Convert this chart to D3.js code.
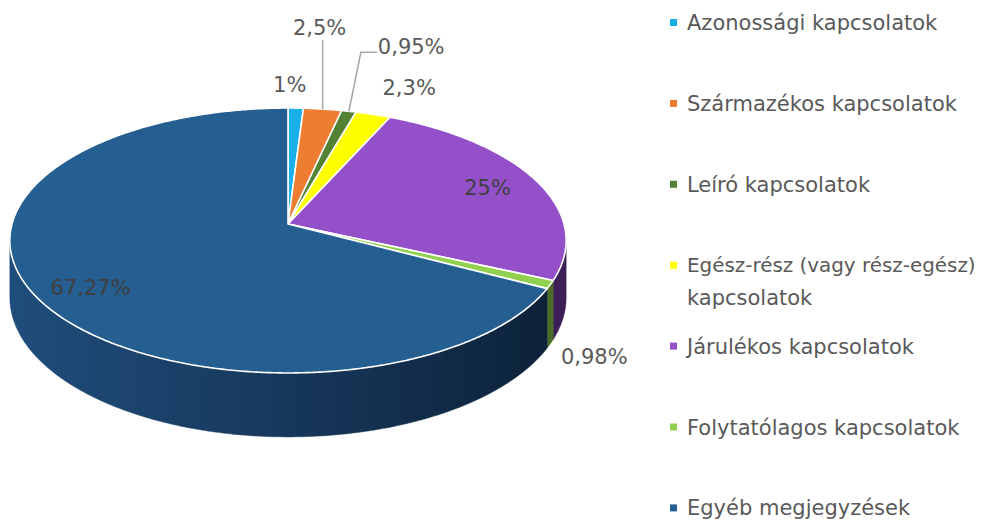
<!DOCTYPE html>
<html>
<head>
<meta charset="utf-8">
<script src="https://cdn.jsdelivr.net/npm/d3@7"></script>
<style>
  body { margin: 0; background: #fff; }
  text { font-family: "DejaVu Sans", sans-serif; }
</style>
</head>
<body>
<script>
// data
const categories = [
  "Azonossági kapcsolatok",
  "Származékos kapcsolatok",
  "Leíró kapcsolatok",
  "Egész-rész (vagy rész-egész) kapcsolatok",
  "Járulékos kapcsolatok",
  "Folytatólagos kapcsolatok",
  "Egyéb megjegyzések"
];
const values = [1, 2.5, 0.95, 2.3, 25, 0.98, 67.27];
const valueLabels = ["1%", "2,5%", "0,95%", "2,3%", "25%", "0,98%", "67,27%"];
const topColors = ["#19b0ea", "#ed7d31", "#548235", "#ffff00", "#9450c9", "#92d050", "#255e91"];
const sideColors = ["#0d5d7c", "#7d4119", "#2c441c", "#87870a", "#3b1f56", "#4b6b29", "url(#sideGrad)"];
const legendLines = [
  ["Azonossági kapcsolatok"],
  ["Származékos kapcsolatok"],
  ["Leíró kapcsolatok"],
  ["Egész-rész (vagy rész-egész)", "kapcsolatok"],
  ["Járulékos kapcsolatok"],
  ["Folytatólagos kapcsolatok"],
  ["Egyéb megjegyzések"]
];

const width = 985, height = 521;

// 3d disc seen in perspective
const cx = 288, cy = 224, rx = 276, ry = 130.4, persp = 0.1245, depth = 56;

function proj(theta, h = 0, r = 1) {
  const x = r * Math.sin(theta), z = r * Math.cos(theta);
  const w = 1 + persp * z;
  return [cx + rx * x / w, cy - ry * z / w + h * depth / w];
}

function arcPoints(a0, a1, h) {
  const n = Math.max(2, Math.ceil((a1 - a0) / (Math.PI / 360)));
  return d3.range(n + 1).map(i => proj(a0 + (a1 - a0) * i / n, h));
}

const svg = d3.select("body").append("svg")
    .attr("width", width)
    .attr("height", height);

const grad = svg.append("defs").append("linearGradient")
    .attr("id", "sideGrad")
    .attr("gradientUnits", "userSpaceOnUse")
    .attr("x1", 10).attr("x2", 560).attr("y1", 0).attr("y2", 0);
grad.append("stop").attr("offset", 0).attr("stop-color", "#1f4d7b");
grad.append("stop").attr("offset", 0.45).attr("stop-color", "#183a5f");
grad.append("stop").attr("offset", 1).attr("stop-color", "#0c2138");

const arcs = d3.pie().sort(null).value(d => d).startAngle(0).endAngle(2 * Math.PI)(values);
const line = d3.line();

// visible front part of the side wall
const frontStart = Math.acos(-persp), frontEnd = 2 * Math.PI - frontStart;

const sides = svg.append("g");
arcs.forEach((a, i) => {
  const s = Math.max(a.startAngle, frontStart), e = Math.min(a.endAngle, frontEnd);
  if (e <= s) return;
  const pts = arcPoints(s, e, 0).concat(arcPoints(s, e, 1).reverse());
  sides.append("path")
      .attr("d", line(pts) + "Z")
      .attr("fill", sideColors[i])
      .attr("stroke", sideColors[i])
      .attr("stroke-width", 0.5);
});

// top face
const topFace = svg.append("g");
arcs.forEach((a, i) => {
  const pts = [proj(0, 0, 0)].concat(arcPoints(a.startAngle, a.endAngle, 0));
  topFace.append("path")
      .attr("d", line(pts) + "Z")
      .attr("fill", topColors[i])
      .attr("stroke", "#fff")
      .attr("stroke-width", 1.6)
      .attr("stroke-linejoin", "round");
});

// data labels
const mid = a => (a.startAngle + a.endAngle) / 2;
const labelNudge = [[-6, -23], [-3, -81], [29, -64], [36, -26], [0, 0], [44, 72], [2, 7]];
const insideAt = [null, null, null, null, 0.8, null, 0.8];
const labels = svg.append("g").attr("font-size", 21);

arcs.forEach((a, i) => {
  let p, anchor = "middle", fill = "#595959";
  if (insideAt[i]) {
    const q = proj(mid(a), 0, insideAt[i]);
    p = [q[0] + labelNudge[i][0], q[1] + labelNudge[i][1]];
    fill = "#404040";
  } else {
    const e = proj(mid(a), 0, 1);
    p = [e[0] + labelNudge[i][0], e[1] + labelNudge[i][1]];
    if (i === 1) {
      labels.append("path")
          .attr("d", line([e, [e[0], p[1] + 12]]))
          .attr("fill", "none").attr("stroke", "#a6a6a6").attr("stroke-width", 1.5);
    }
    if (i === 2) {
      anchor = "start";
      labels.append("path")
          .attr("d", line([e, [e[0] + 12, p[1] + 5], [p[0] - 1, p[1] + 5]]))
          .attr("fill", "none").attr("stroke", "#a6a6a6").attr("stroke-width", 1.5);
    }
  }
  labels.append("text")
      .attr("x", p[0]).attr("y", p[1])
      .attr("text-anchor", anchor)
      .attr("dominant-baseline", "central")
      .attr("fill", fill)
      .text(valueLabels[i]);
});

// legend
const legend = svg.append("g").attr("font-size", 21).attr("fill", "#595959");
legendLines.forEach((lines, i) => {
  const y = 23 + i * 80.9;
  legend.append("rect")
      .attr("x", 670).attr("y", y - 4)
      .attr("width", 7).attr("height", 7)
      .attr("fill", topColors[i]);
  lines.forEach((t, j) => {
    const txt = legend.append("text")
        .attr("x", 687).attr("y", y + j * 32)
        .attr("dominant-baseline", "central")
        .text(t);
    // shrink lines that would run past the right edge
    const w = txt.node().getComputedTextLength();
    const room = width - 8 - 687;
    if (w > room) txt.attr("font-size", Math.floor(21 * room / w * 10) / 10);
  });
});
</script>
</body>
</html>
